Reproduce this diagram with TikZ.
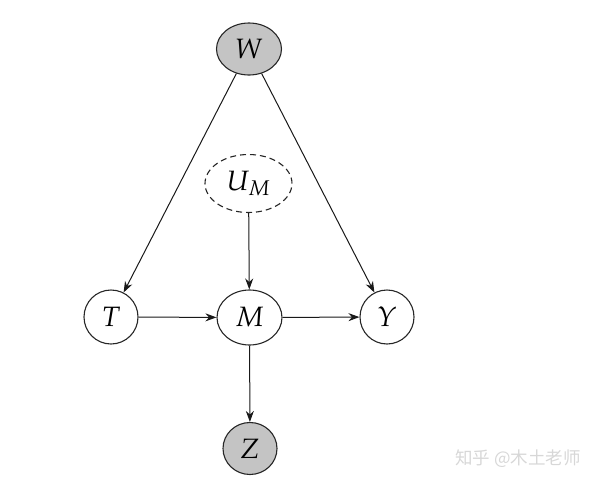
\documentclass[tikz,border=0pt]{standalone}
\usepackage{mathpazo}
\usepackage{fontspec}
\newfontfamily\cjk{Noto Sans CJK SC}
\usetikzlibrary{arrows.meta,shapes.geometric}
\definecolor{nodegray}{RGB}{196,196,196}
\definecolor{wmgray}{RGB}{215,215,215}
\begin{document}
\begin{tikzpicture}[x=1pt,y=-1pt,
  var/.style={draw=black!85,line width=1.1pt,ellipse,inner sep=0pt,font=\fontsize{28}{30}\selectfont},
  obs/.style={var,fill=nodegray},
  conn/.style={line width=1pt,draw=black!90,-{Stealth[length=11pt,width=8pt]}}]
\useasboundingbox (0,0) rectangle (600,482);
\node[obs,minimum width=65pt,minimum height=52pt] (W) at (249,49) {$W$};
\node[var,dashed,dash pattern=on 6pt off 4pt,minimum width=87pt,minimum height=58pt] (U) at (248.5,183.5) {$U_M$};
\node[var,minimum width=54pt,minimum height=54pt] (T) at (111,317) {$T$};
\node[var,minimum width=65pt,minimum height=55pt] (M) at (249.5,317.5) {$M$};
\node[var,minimum width=54pt,minimum height=54pt] (Y) at (387,317) {$Y$};
\node[obs,minimum width=54pt,minimum height=52pt] (Z) at (250,448.5) {$Z$};
\draw[conn] (W) -- (T);
\draw[conn] (W) -- (Y);
\draw[conn] (U) -- (M);
\draw[conn] (T) -- (M);
\draw[conn] (M) -- (Y);
\draw[conn] (M) -- (Z);
\node[text=wmgray,font=\cjk\fontsize{17.5}{19}\selectfont,anchor=west,inner sep=0pt] (wm) at (455,459) {知乎 @木土老师};
\end{tikzpicture}
\end{document}
